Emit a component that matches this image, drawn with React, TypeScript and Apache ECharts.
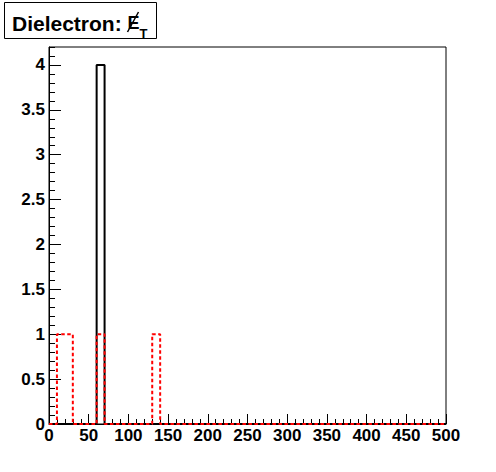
import React, { useEffect, useRef } from "react";
import * as echarts from "echarts";

// Histogram binning: 50 bins of width 10 from 0 to 500
const binEdges = [
  0, 10, 20, 30, 40, 50, 60, 70, 80, 90,
  100, 110, 120, 130, 140, 150, 160, 170, 180, 190,
  200, 210, 220, 230, 240, 250, 260, 270, 280, 290,
  300, 310, 320, 330, 340, 350, 360, 370, 380, 390,
  400, 410, 420, 430, 440, 450, 460, 470, 480, 490, 500,
];

// Black (solid) histogram counts per bin
const blackCounts = [
  0, 0, 0, 0, 0, 0, 4, 0, 0, 0,
  0, 0, 0, 0, 0, 0, 0, 0, 0, 0,
  0, 0, 0, 0, 0, 0, 0, 0, 0, 0,
  0, 0, 0, 0, 0, 0, 0, 0, 0, 0,
  0, 0, 0, 0, 0, 0, 0, 0, 0, 0,
];

// Red (dashed) histogram counts per bin
const redCounts = [
  0, 1, 1, 0, 0, 0, 1, 0, 0, 0,
  0, 0, 0, 1, 0, 0, 0, 0, 0, 0,
  0, 0, 0, 0, 0, 0, 0, 0, 0, 0,
  0, 0, 0, 0, 0, 0, 0, 0, 0, 0,
  0, 0, 0, 0, 0, 0, 0, 0, 0, 0,
];

const xMin = 0;
const xMax = 500;
const xMajor = 50;
const yMin = 0;
const yMax = 4.2;
const yMajor = 0.5;
const yMinor = 0.1;

const titleMain = "Dielectron:";
const titleSym = "E";
const titleSub = "T";

function stepData(counts: number[]) {
  const pts: [number, number][] = counts.map((c, i) => [binEdges[i], c]);
  pts.push([binEdges[binEdges.length - 1], counts[counts.length - 1]]);
  return pts;
}

const FONT = "'Liberation Sans', Arial, Helvetica, sans-serif";

export default function App() {
  const ref = useRef<HTMLDivElement>(null);
  useEffect(() => {
    if (!ref.current) return;
    const chart = echarts.init(ref.current, undefined, { renderer: "svg" });
    chart.setOption({
      animation: false,
      backgroundColor: "#ffffff",
      grid: {
        left: 49,
        right: 50,
        top: 47,
        bottom: 48,
        show: true,
        borderColor: "#000",
        borderWidth: 1,
        backgroundColor: "transparent",
      },
      xAxis: {
        type: "value",
        min: xMin,
        max: xMax,
        interval: xMajor,
        axisLine: { show: true, lineStyle: { color: "#000", width: 1 } },
        axisTick: { show: true, inside: true, length: 10, lineStyle: { color: "#000" } },
        minorTick: { show: true, splitNumber: 5, length: 5, lineStyle: { color: "#000" } },
        splitLine: { show: false },
        minorSplitLine: { show: false },
        axisLabel: {
          color: "#000",
          fontFamily: FONT,
          fontWeight: "bold",
          fontSize: 17,
          margin: 3,
        },
      },
      yAxis: [
        {
          type: "value",
          min: yMin,
          max: yMax,
          interval: yMajor,
          axisLine: { show: true, lineStyle: { color: "#000", width: 1 } },
          axisTick: { show: true, inside: true, length: 12, lineStyle: { color: "#000" } },
          splitLine: { show: false },
          axisLabel: {
            color: "#000",
            fontFamily: FONT,
            fontWeight: "bold",
            fontSize: 17,
            margin: 4,
            showMaxLabel: false,
            formatter: (v: number) => String(Math.round(v * 10) / 10),
          },
        },
        {
          type: "value",
          position: "left",
          min: yMin,
          max: yMax,
          interval: yMinor,
          axisLine: { show: false },
          axisTick: { show: true, inside: true, length: 6, lineStyle: { color: "#000" } },
          splitLine: { show: false },
          axisLabel: { show: false },
        },
      ],
      series: [
        {
          type: "line",
          step: "end",
          data: stepData(blackCounts),
          symbol: "none",
          lineStyle: { color: "#000", width: 2 },
          z: 3,
        },
        {
          type: "line",
          step: "end",
          data: stepData(redCounts),
          symbol: "none",
          lineStyle: { color: "#ff0000", width: 2, type: [3.5, 2.5] },
          z: 4,
        },
      ],
      graphic: [
        {
          type: "rect",
          shape: { x: 4.5, y: 2.5, width: 152, height: 36 },
          style: { fill: "#fff", stroke: "#000", lineWidth: 1 },
          z: 100,
        },
        {
          type: "text",
          x: 12,
          y: 23,
          style: {
            text: titleMain,
            font: `bold 21px ${FONT}`,
            fill: "#000",
            textVerticalAlign: "middle",
          },
          z: 101,
        },
        {
          type: "text",
          x: 127.5,
          y: 23,
          style: {
            text: titleSym,
            font: `bold 18px ${FONT}`,
            fill: "#000",
            textVerticalAlign: "middle",
          },
          z: 101,
        },
        {
          type: "line",
          shape: { x1: 127.5, y1: 32, x2: 138.5, y2: 12 },
          style: { stroke: "#000", lineWidth: 1.5 },
          z: 101,
        },
        {
          type: "text",
          x: 139.5,
          y: 33,
          style: {
            text: titleSub,
            font: `bold 13px ${FONT}`,
            fill: "#000",
            textVerticalAlign: "middle",
          },
          z: 101,
        },
      ],
    });
    return () => chart.dispose();
  }, []);
  return (
    <div
      ref={ref}
      style={{ position: "fixed", left: 0, top: 0, width: 496, height: 472, background: "#fff" }}
    />
  );
}
